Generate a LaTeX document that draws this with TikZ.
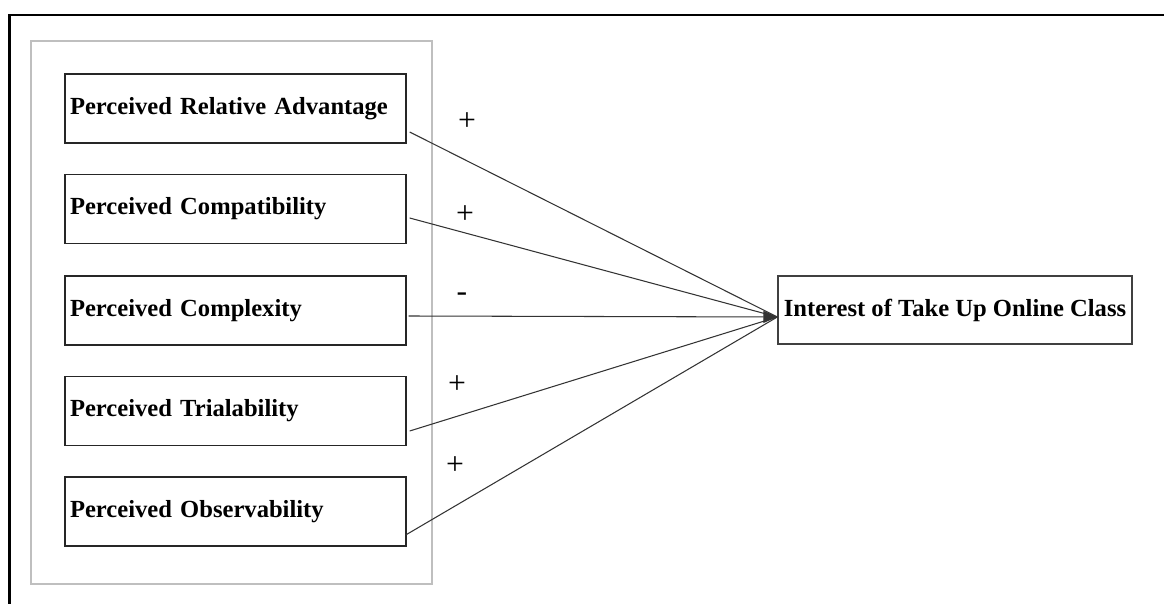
\documentclass[tikz,border=0pt]{standalone}
\usepackage{fontspec}
\setmainfont{Liberation Serif}
\usepackage{tikz}
\usetikzlibrary{arrows.meta,calc}

\begin{document}
\begin{tikzpicture}[
  x=0.02cm,y=-0.02cm,
  every node/.style={font=\fontsize{14}{16}\selectfont},
  frame/.style={draw=black, line width=1.2pt},
  group/.style={draw=black!25, line width=0.6pt},
  factor/.style={draw=black!85, line width=0.8pt, align=left, inner xsep=0.1cm,
    minimum width=6.82cm, minimum height=1.38cm, text width=6.62cm, font=\fontsize{14}{16}\selectfont\bfseries},
  target/.style={draw=black!75, line width=0.8pt, align=center, inner sep=0pt,
    minimum width=7.08cm, minimum height=1.36cm, font=\fontsize{14}{16}\selectfont\bfseries},
  sign/.style={font=\fontsize{18}{20}\selectfont},
  link/.style={line width=0.6pt, draw=black!80},
  arrow/.style={link, -{Triangle[length=2.8mm,width=2.4mm]}}
]
\useasboundingbox (0,0) rectangle (1164,604);
\draw[frame] (9.5,604) |- (1164,15);
\draw[group] (31,41) rectangle (432,584);

% innovation attributes
\node[factor] (adv) at (235.5,108.5) {Perceived Relative Advantage};
\node[factor] (comp) at (235.5,209) {Perceived Compatibility};
\node[factor] (cplx) at (235.5,310.5) {Perceived Complexity};
\node[factor] (trial) at (235.5,411) {Perceived Trialability};
\node[factor] (obs) at (235.5,511.5) {Perceived Observability};

\node[target] (interest) at (955,310) {Interest of Take Up Online Class};
\coordinate (tip) at ($(interest.west)+(0,7)$);

\draw[link] ($(adv.east)+(3,23.5)$) -- (tip);
\draw[link] ($(comp.east)+(3,9)$) -- (tip);
\draw[arrow] ($(cplx.east)+(2,5.5)$) -- (tip);
\draw[link] ($(trial.east)+(3,20)$) -- (tip);
\draw[link] ($(obs.east)+(-1,23.5)$) -- (tip);

\node[sign] (s1) at (467,122) {+};
\node[sign] (s2) at (465,215) {+};
\node[sign] (s3) at (462,297) {-};
\node[sign] (s4) at (457,385) {+};
\node[sign] (s5) at (455,466) {+};
\end{tikzpicture}
\end{document}
